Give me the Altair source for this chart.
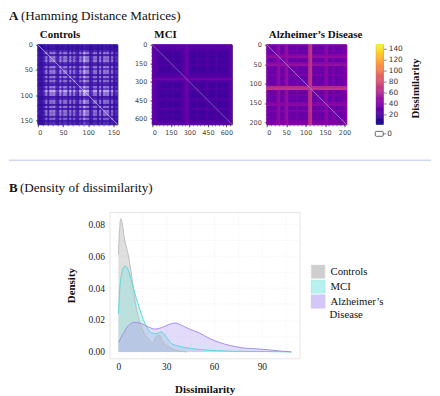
import math
import altair as alt
import pandas as pd

SERIF = "Liberation Serif"
SANS = "DejaVu Sans"

# Heat-map stripe levels (40 bins along each axis)
controls_n = 158
controls_strip = [.1,.05,.05,.2,.6,.15,.6,.5,.65,.2,.15,.65,.25,.6,.55,.15,.6,.2,.55,.2,
                  .15,.6,.3,1.0,.6,.6,.1,.2,.55,.5,.1,.6,.15,.6,.5,.55,.15,.5,.1,.2]
mci_n = 645
mci_strip = [28,26,24,19,15,18,14,20,16,15,21,14,16,15,19,22,24,34,24,17,
             15,14,21,15,17,14,16,22,19,15,14,17,23,15,14,19,17,15,21,26]
ad_n = 205
ad_strip = [39,31,27,33,29,41,45,31,27,43,47,31,27,33,29,37,27,25,31,27,
            35,62,66,31,27,35,29,31,27,41,43,29,27,39,31,27,33,29,35,37]
colorbar_levels = list(range(2, 148, 2))
colorbar_ticks = [20, 40, 60, 80, 100, 120, 140]

# Density curves
controls_x = [0,1.5,4,6.3,8.4,10.4,12.5,15.7,18.8,21.5,24,25.7,28,32,36.5,43]
controls_y = [.0613,.0835,.0696,.060,.0468,.032,.022,.0125,.0083,.0058,.010,.0104,.0062,.003,.0008,0]
mci_x = [0,.6,2,4.2,6.3,8.4,10.4,13.6,17.7,20.9,24,27,30,33.4,36.5,43,51,61.6,72,93,108.5]
mci_y = [.024,.036,.0488,.0538,.051,.0436,.0364,.026,.0156,.0118,.0114,.0125,.0094,.0052,.004,.0025,.0015,.0008,.0004,.0002,0]
ad_x = [0,3,6.3,10.4,14.6,18.8,23,27,31.3,35.5,39.7,45,51,57.4,63.7,70,78,86.6,95,103,108.5]
ad_y = [.006,.0114,.0166,.0185,.0177,.0156,.0143,.0152,.017,.0181,.0166,.0141,.0118,.0083,.0058,.004,.0025,.0019,.0012,.0004,0]
groups = ["Controls", "MCI", "Alzheimer\u2019s Disease"]
fill_colors = ["#a6a6a6", "#7fe3da", "#b09af0"]
line_colors = ["#bdbdbd", "#5ad8d8", "#a78ee6"]

one = pd.DataFrame({"k": [0]})


def label(text, x, y, size=10, bold=False, angle=0, font=SERIF, color="#111", align="left"):
    return alt.Chart(one).mark_text(
        text=text, font=font, fontSize=size, fontWeight="bold" if bold else "normal",
        angle=angle, color=color, align=align, baseline="middle"
    ).encode(x=alt.value(x), y=alt.value(y))


def matrix(strip, n):
    rows = []
    k = len(strip)
    for i, a in enumerate(strip):
        for j, b in enumerate(strip):
            rows.append({"x0": j * n / k, "x1": (j + 1) * n / k,
                         "y0": i * n / k, "y1": (i + 1) * n / k,
                         "v": math.sqrt(a * b) if n == controls_n else max(a, b)})
    return pd.DataFrame(rows)


def panel(strip, n, step, major, scale, diag, title, extra=()):
    minor = list(range(0, n + 1, step))
    labelled = [t for t in minor if t % major == 0]
    ax = dict(values=labelled, title=None, grid=False, domain=False, tickSize=2.5,
              tickWidth=0.7, tickColor="#333", labelFont=SANS, labelFontSize=6.5, labelColor="#444",
              labelPadding=3, format="d")
    mn = dict(values=minor, title=None, grid=False, domain=False, labels=False, tickSize=1.5,
              tickWidth=0.6, tickColor="#333")
    sx = alt.Scale(domain=[0, n], nice=False, zero=False)
    sy = alt.Scale(domain=[0, n], nice=False, zero=False, reverse=True)
    cells = alt.Chart(matrix(strip, n)).mark_rect(strokeWidth=1).encode(
        x=alt.X("x0:Q", scale=sx, axis=alt.Axis(orient="bottom", **ax)), x2="x1:Q",
        y=alt.Y("y0:Q", scale=sy, axis=alt.Axis(orient="left", **ax)), y2="y1:Q",
        color=alt.Color("v:Q", scale=scale, legend=None),
        stroke=alt.Stroke("v:Q", scale=scale, legend=None))
    diagonal = alt.Chart(pd.DataFrame({"a": [0], "b": [n]})).mark_rule(
        color=diag, strokeWidth=0.8).encode(
        x=alt.X("a:Q", scale=sx, axis=alt.Axis(orient="bottom", **mn)), x2="b:Q",
        y=alt.Y("a:Q", scale=sy, axis=alt.Axis(orient="left", **mn)), y2="b:Q")
    return alt.layer(cells, diagonal, label(title, 2, -10, 11, True), *extra).resolve_axis(
        x="independent", y="independent").properties(
        width=80, height=80, view=alt.ViewBackground(stroke="#555", strokeWidth=1))


plasma = alt.Scale(scheme="plasma", domain=[2, 147], nice=False, zero=False)
ctrl_scale = alt.Scale(domain=[0, .3, .6, 1], range=["#2a0a96", "#4a1fb0", "#947fd2", "#ffffff"],
                       nice=False, zero=False)

p1 = panel(controls_strip, controls_n, 10, 50, ctrl_scale, "#c4b6ea", "Controls", extra=[
    label("A", -29, -28.5, 13, True),
    label("(Hamming Distance Matrices)", -17, -28.5, 13.2),
    alt.Chart(one).mark_rule(color="#b9c6e4", strokeWidth=1).encode(
        x=alt.value(-29), x2=alt.value(395), y=alt.value(116)),
])
p2 = panel(mci_strip, mci_n, 30, 150, plasma, "#8f6cc8", "MCI")
p3 = panel(ad_strip, ad_n, 10, 50, plasma, "#a692d8", "Alzheimer\u2019s Disease")

bar_df = pd.DataFrame({"lo": colorbar_levels, "hi": [v + 2 for v in colorbar_levels]})
bar_y = alt.Scale(domain=[2, 147], nice=False, zero=False)
bar = alt.Chart(bar_df).mark_rect(strokeWidth=0.5).encode(
    y=alt.Y("lo:Q", scale=bar_y, axis=alt.Axis(
        orient="right", values=colorbar_ticks, title=None, grid=False, domain=False, tickSize=3,
        tickWidth=0.6, tickColor="#333", labelFont=SANS, labelFontSize=7.4, labelColor="#333",
        labelPadding=2)),
    y2="hi:Q",
    color=alt.Color("lo:Q", scale=plasma, legend=None),
    stroke=alt.Stroke("lo:Q", scale=plasma, legend=None))
zero_box = alt.Chart(one).mark_rect(fill="white", stroke="#444", strokeWidth=0.8, cornerRadius=1).encode(
    x=alt.value(-1), x2=alt.value(7), y=alt.value(87), y2=alt.value(92))
zero_tick = alt.Chart(one).mark_rule(color="#333", strokeWidth=0.6).encode(
    x=alt.value(7), x2=alt.value(10), y=alt.value(89.5))
p4 = alt.layer(
    bar, zero_box, zero_tick,
    label("0", 11, 89.5, 7.4, font=SANS, color="#333"),
    label("Dissimilarity", 40, 44, 11, True, angle=270, align="center"),
).properties(width=7, height=80, view=alt.ViewBackground(stroke="#555", strokeWidth=0.6))

# Density panel
dens = pd.concat([
    pd.DataFrame({"x": controls_x, "y": controls_y, "g": groups[0]}),
    pd.DataFrame({"x": mci_x, "y": mci_y, "g": groups[1]}),
    pd.DataFrame({"x": ad_x, "y": ad_y, "g": groups[2]}),
])
dx = alt.Scale(domain=[-5.6, 113.7], nice=False, zero=False)
dy = alt.Scale(domain=[-0.004, 0.0877], nice=False, zero=False)
x_axis = alt.Axis(values=[0, 30, 60, 90], orient="bottom",
                  title="Dissimilarity", titleFont=SERIF, titleFontSize=11, titleFontWeight="bold",
                  titleColor="#111", titlePadding=13, labelFont=SERIF, labelFontSize=9.5, labelColor="#222",
                  labelPadding=3, ticks=False, domain=False, grid=False, format="d")
y_axis = alt.Axis(values=[0, .02, .04, .06, .08], orient="left", format=".2f",
                  title="Density", titleFont=SERIF, titleFontSize=11, titleFontWeight="bold",
                  titleColor="#111", titlePadding=12, labelFont=SERIF, labelFontSize=9.5, labelColor="#222",
                  labelPadding=5, ticks=False, domain=False, grid=False)
x_grid = alt.Axis(values=[0, 15, 30, 45, 60, 75, 90, 105], orient="bottom", labels=False, title=None,
                  ticks=False, domain=False, grid=True, gridColor="#efefef", gridWidth=0.6, gridDash=[2, 1])
y_grid = alt.Axis(values=[0, .01, .02, .03, .04, .05, .06, .07, .08], orient="left", labels=False, title=None,
                  ticks=False, domain=False, grid=True, gridColor="#efefef", gridWidth=0.6, gridDash=[2, 1])
legend = alt.Legend(orient="none", legendX=202, legendY=53, title=None, symbolType="square",
                    symbolSize=190, symbolOpacity=0.55, symbolStrokeWidth=1, labelFont=SERIF,
                    labelFontSize=10.8, labelColor="#111", rowPadding=1, labelOffset=5, clipHeight=14,
                    labelExpr="split(datum.label, ' ')[0]")
area = alt.Chart(dens).mark_area(interpolate="monotone", fillOpacity=0.36).encode(
    x=alt.X("x:Q", scale=dx, axis=x_axis),
    y=alt.Y("y:Q", scale=dy, axis=y_axis, stack=None),
    fill=alt.Fill("g:N", sort=groups, scale=alt.Scale(domain=groups, range=fill_colors), legend=legend))
line = alt.Chart(dens).mark_line(interpolate="monotone", strokeWidth=1).encode(
    x=alt.X("x:Q", scale=dx, axis=x_grid), y=alt.Y("y:Q", scale=dy, axis=y_grid),
    stroke=alt.Stroke("g:N", sort=groups, scale=alt.Scale(domain=groups, range=line_colors), legend=legend))
density = alt.layer(
    area, line,
    label("B", -101, -24, 13, True),
    label("(Density of dissimilarity)", -90, -24, 13.2),
    label("Disease", 221, 104, 10.8),
).resolve_axis(x="independent", y="independent").properties(
    width=191, height=147, view=alt.ViewBackground(stroke="#e6e6e6", strokeWidth=1))

spacer = alt.Chart(one).mark_point(opacity=0).encode(x=alt.value(0), y=alt.value(0)).properties(
    width=72, height=20, view=alt.ViewBackground(stroke=None))

ind = dict(color="independent", fill="independent", stroke="independent")
three = alt.hconcat(p1, p2, p3, spacing=35, bounds="flush").resolve_scale(**ind)
top = alt.hconcat(three, p4, spacing=340, bounds="flush").resolve_scale(**ind)
bottom = alt.hconcat(spacer, density, spacing=0, bounds="flush").resolve_scale(**ind)
chart = alt.vconcat(top, bottom, spacing=168, bounds="flush").resolve_scale(**ind).properties(
    padding=0, background="white")
chart.save("out.html", embed_options={"renderer": "svg", "actions": False})
